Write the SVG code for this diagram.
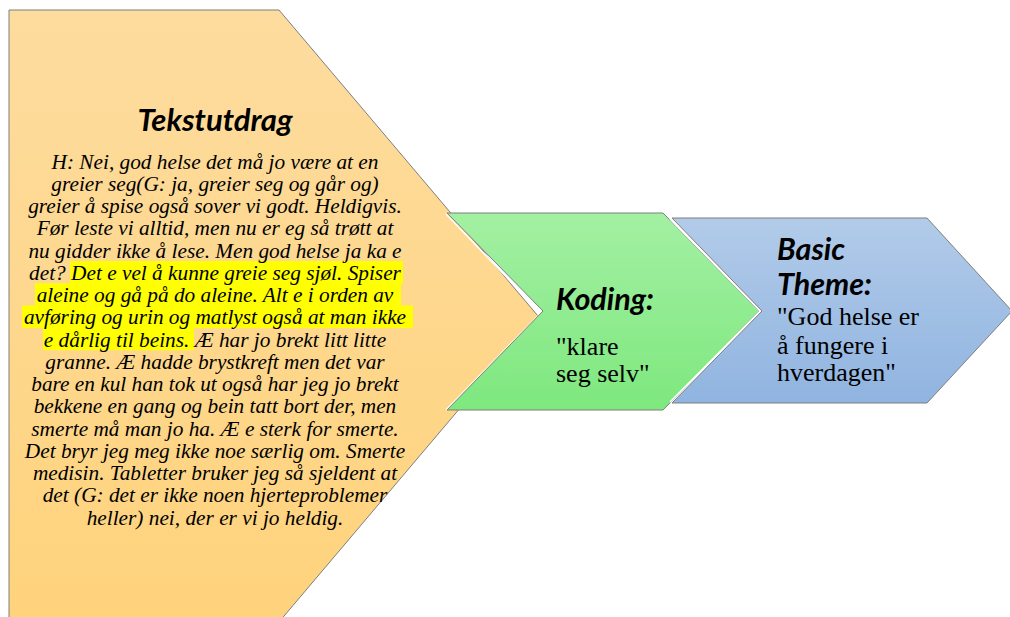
<svg xmlns="http://www.w3.org/2000/svg" width="1010" height="617" viewBox="0 0 1010 617">
<style>
.shape{stroke:#7f7f7f;stroke-width:1}
.title{font-family:Lato,"Open Sans",sans-serif;font-weight:bold;font-style:italic;fill:#000}
.body{font-family:"Liberation Serif","Times New Roman",serif;font-style:italic;font-size:21.3px;fill:#000;text-anchor:middle}
.quote{font-family:"Liberation Serif","Times New Roman",serif;font-size:26px;fill:#000}
.hl{fill:#ffff00}
</style>
<defs>
<linearGradient id="gOrange" x1="0" y1="0" x2="0" y2="1">
<stop offset="0" stop-color="#fddc9f"/><stop offset="1" stop-color="#ffd37c"/>
</linearGradient>
<linearGradient id="gGreen" x1="0" y1="0" x2="0" y2="1">
<stop offset="0" stop-color="#a3f0a3"/><stop offset="1" stop-color="#7ee87e"/>
</linearGradient>
<linearGradient id="gBlue" x1="0" y1="0" x2="0" y2="1">
<stop offset="0" stop-color="#b2cbe9"/><stop offset="1" stop-color="#90b4e0"/>
</linearGradient>
</defs>
<g id="tekstutdrag">
<polygon class="shape" fill="url(#gOrange)" points="9,10 279,10 538,316 279,622 9,622"/>
<text class="title" x="215" y="131" font-size="31" text-anchor="middle">Tekstutdrag</text>
<rect class="hl" x="70" y="261" width="333" height="22.5"/>
<rect class="hl" x="35" y="283.2" width="366" height="22.5"/>
<rect class="hl" x="22" y="305.5" width="391" height="22.5"/>
<rect class="hl" x="43" y="327.7" width="151" height="22.5"/>
<text class="body" x="215" y="168.5">H: Nei, god helse det må jo være at en</text>
<text class="body" x="215" y="190.75">greier seg(G: ja, greier seg og går og)</text>
<text class="body" x="215" y="213">greier å spise også sover vi godt. Heldigvis.</text>
<text class="body" x="215" y="235.25">Før leste vi alltid, men nu er eg så trøtt at</text>
<text class="body" x="215" y="257.5">nu gidder ikke å lese. Men god helse ja ka e</text>
<text class="body" x="215" y="279.75">det? Det e vel å kunne greie seg sjøl. Spiser</text>
<text class="body" x="215" y="302">aleine og gå på do aleine. Alt e i orden av</text>
<text class="body" x="215" y="324.25">avføring og urin og matlyst også at man ikke</text>
<text class="body" x="215" y="346.5">e dårlig til beins. Æ har jo brekt litt litte</text>
<text class="body" x="215" y="368.75">granne. Æ hadde brystkreft men det var</text>
<text class="body" x="215" y="391">bare en kul han tok ut også har jeg jo brekt</text>
<text class="body" x="215" y="413.25">bekkene en gang og bein tatt bort der, men</text>
<text class="body" x="215" y="435.5">smerte må man jo ha. Æ e sterk for smerte.</text>
<text class="body" x="215" y="457.75">Det bryr jeg meg ikke noe særlig om. Smerte</text>
<text class="body" x="215" y="480">medisin. Tabletter bruker jeg så sjeldent at</text>
<text class="body" x="215" y="502.25">det (G: det er ikke noen hjerteproblemer</text>
<text class="body" x="215" y="524.5">heller) nei, der er vi jo heldig.</text>
</g>
<g id="koding">
<polyline points="446,214 541,313 446,410" fill="none" stroke="#ffffff" stroke-width="1.5"/>
<polygon class="shape" fill="url(#gGreen)" points="447,213 663,213 759,311 663,410 447,410 543,311"/>
<text class="title" x="556" y="310" font-size="30.5">Koding:</text>
<text class="quote" x="556" y="355">"klare</text>
<text class="quote" x="556" y="382">seg selv"</text>
</g>
<g id="basic-theme">
<polyline points="670,219 760,311 670,402" fill="none" stroke="#ffffff" stroke-width="1.5"/>
<polygon class="shape" fill="url(#gBlue)" points="672,218 927,218 1012,311 927,403 672,403 762,311"/>
<text class="title" x="777" y="260" font-size="30.5">Basic</text>
<text class="title" x="777" y="295" font-size="30.5">Theme:</text>
<text class="quote" x="777" y="325">"God helse er</text>
<text class="quote" x="777" y="354">å fungere i</text>
<text class="quote" x="777" y="381">hverdagen"</text>
</g>
<g id="connectors"></g>
</svg>
